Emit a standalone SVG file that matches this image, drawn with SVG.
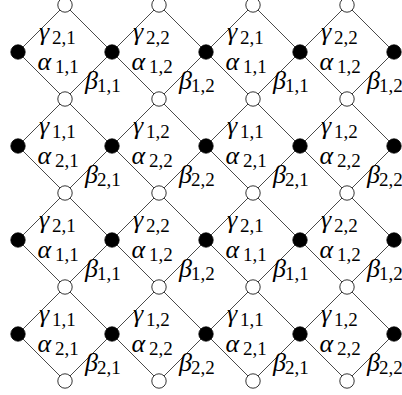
<svg xmlns="http://www.w3.org/2000/svg" width="402" height="395" viewBox="0 0 402 395">
<style>
.e line{stroke:#4a4a4a;stroke-width:1}
.b{fill:#000;stroke:#000;stroke-width:0.8}
.w{fill:#fff;stroke:#000;stroke-width:0.8}
text{fill:#000}
.g{font-family:'Liberation Serif','DejaVu Serif',serif;font-style:italic;font-size:26px}
.s{font-family:'Liberation Serif','DejaVu Serif',serif;font-size:19px}
</style>
<rect width="402" height="395" fill="#fff"/>
<g id="connectors" class="e">
<line x1="65" y1="5" x2="18" y2="52"/><line x1="65" y1="5" x2="112" y2="52"/>
<line x1="159" y1="5" x2="112" y2="52"/><line x1="159" y1="5" x2="206" y2="52"/>
<line x1="253" y1="5" x2="206" y2="52"/><line x1="253" y1="5" x2="300" y2="52"/>
<line x1="347" y1="5" x2="300" y2="52"/><line x1="347" y1="5" x2="394" y2="52"/>
<line x1="65" y1="99" x2="18" y2="52"/><line x1="65" y1="99" x2="112" y2="52"/><line x1="65" y1="99" x2="18" y2="146"/><line x1="65" y1="99" x2="112" y2="146"/>
<line x1="159" y1="99" x2="112" y2="52"/><line x1="159" y1="99" x2="206" y2="52"/><line x1="159" y1="99" x2="112" y2="146"/><line x1="159" y1="99" x2="206" y2="146"/>
<line x1="253" y1="99" x2="206" y2="52"/><line x1="253" y1="99" x2="300" y2="52"/><line x1="253" y1="99" x2="206" y2="146"/><line x1="253" y1="99" x2="300" y2="146"/>
<line x1="347" y1="99" x2="300" y2="52"/><line x1="347" y1="99" x2="394" y2="52"/><line x1="347" y1="99" x2="300" y2="146"/><line x1="347" y1="99" x2="394" y2="146"/>
<line x1="65" y1="193" x2="18" y2="146"/><line x1="65" y1="193" x2="112" y2="146"/><line x1="65" y1="193" x2="18" y2="240"/><line x1="65" y1="193" x2="112" y2="240"/>
<line x1="159" y1="193" x2="112" y2="146"/><line x1="159" y1="193" x2="206" y2="146"/><line x1="159" y1="193" x2="112" y2="240"/><line x1="159" y1="193" x2="206" y2="240"/>
<line x1="253" y1="193" x2="206" y2="146"/><line x1="253" y1="193" x2="300" y2="146"/><line x1="253" y1="193" x2="206" y2="240"/><line x1="253" y1="193" x2="300" y2="240"/>
<line x1="347" y1="193" x2="300" y2="146"/><line x1="347" y1="193" x2="394" y2="146"/><line x1="347" y1="193" x2="300" y2="240"/><line x1="347" y1="193" x2="394" y2="240"/>
<line x1="65" y1="287" x2="18" y2="240"/><line x1="65" y1="287" x2="112" y2="240"/><line x1="65" y1="287" x2="18" y2="334"/><line x1="65" y1="287" x2="112" y2="334"/>
<line x1="159" y1="287" x2="112" y2="240"/><line x1="159" y1="287" x2="206" y2="240"/><line x1="159" y1="287" x2="112" y2="334"/><line x1="159" y1="287" x2="206" y2="334"/>
<line x1="253" y1="287" x2="206" y2="240"/><line x1="253" y1="287" x2="300" y2="240"/><line x1="253" y1="287" x2="206" y2="334"/><line x1="253" y1="287" x2="300" y2="334"/>
<line x1="347" y1="287" x2="300" y2="240"/><line x1="347" y1="287" x2="394" y2="240"/><line x1="347" y1="287" x2="300" y2="334"/><line x1="347" y1="287" x2="394" y2="334"/>
<line x1="65" y1="381" x2="18" y2="334"/><line x1="65" y1="381" x2="112" y2="334"/>
<line x1="159" y1="381" x2="112" y2="334"/><line x1="159" y1="381" x2="206" y2="334"/>
<line x1="253" y1="381" x2="206" y2="334"/><line x1="253" y1="381" x2="300" y2="334"/>
<line x1="347" y1="381" x2="300" y2="334"/><line x1="347" y1="381" x2="394" y2="334"/>
</g>
<g id="nodes">
<g id="b11"><circle class="b" cx="18" cy="52" r="7.2"/></g>
<g id="b12"><circle class="b" cx="112" cy="52" r="7.2"/></g>
<g id="b13"><circle class="b" cx="206" cy="52" r="7.2"/></g>
<g id="b14"><circle class="b" cx="300" cy="52" r="7.2"/></g>
<g id="b15"><circle class="b" cx="394" cy="52" r="7.2"/></g>
<g id="b21"><circle class="b" cx="18" cy="146" r="7.2"/></g>
<g id="b22"><circle class="b" cx="112" cy="146" r="7.2"/></g>
<g id="b23"><circle class="b" cx="206" cy="146" r="7.2"/></g>
<g id="b24"><circle class="b" cx="300" cy="146" r="7.2"/></g>
<g id="b25"><circle class="b" cx="394" cy="146" r="7.2"/></g>
<g id="b31"><circle class="b" cx="18" cy="240" r="7.2"/></g>
<g id="b32"><circle class="b" cx="112" cy="240" r="7.2"/></g>
<g id="b33"><circle class="b" cx="206" cy="240" r="7.2"/></g>
<g id="b34"><circle class="b" cx="300" cy="240" r="7.2"/></g>
<g id="b35"><circle class="b" cx="394" cy="240" r="7.2"/></g>
<g id="b41"><circle class="b" cx="18" cy="334" r="7.2"/></g>
<g id="b42"><circle class="b" cx="112" cy="334" r="7.2"/></g>
<g id="b43"><circle class="b" cx="206" cy="334" r="7.2"/></g>
<g id="b44"><circle class="b" cx="300" cy="334" r="7.2"/></g>
<g id="b45"><circle class="b" cx="394" cy="334" r="7.2"/></g>
<g id="w01"><circle class="w" cx="65" cy="5" r="7.2"/></g>
<g id="w02"><circle class="w" cx="159" cy="5" r="7.2"/></g>
<g id="w03"><circle class="w" cx="253" cy="5" r="7.2"/></g>
<g id="w04"><circle class="w" cx="347" cy="5" r="7.2"/></g>
<g id="w11"><circle class="w" cx="65" cy="99" r="7.2"/></g>
<g id="w12"><circle class="w" cx="159" cy="99" r="7.2"/></g>
<g id="w13"><circle class="w" cx="253" cy="99" r="7.2"/></g>
<g id="w14"><circle class="w" cx="347" cy="99" r="7.2"/></g>
<g id="w21"><circle class="w" cx="65" cy="193" r="7.2"/></g>
<g id="w22"><circle class="w" cx="159" cy="193" r="7.2"/></g>
<g id="w23"><circle class="w" cx="253" cy="193" r="7.2"/></g>
<g id="w24"><circle class="w" cx="347" cy="193" r="7.2"/></g>
<g id="w31"><circle class="w" cx="65" cy="287" r="7.2"/></g>
<g id="w32"><circle class="w" cx="159" cy="287" r="7.2"/></g>
<g id="w33"><circle class="w" cx="253" cy="287" r="7.2"/></g>
<g id="w34"><circle class="w" cx="347" cy="287" r="7.2"/></g>
<g id="w41"><circle class="w" cx="65" cy="381" r="7.2"/></g>
<g id="w42"><circle class="w" cx="159" cy="381" r="7.2"/></g>
<g id="w43"><circle class="w" cx="253" cy="381" r="7.2"/></g>
<g id="w44"><circle class="w" cx="347" cy="381" r="7.2"/></g>
</g>
<g id="labels">
<text class="g" x="39" y="40">γ</text><text class="s" x="52" y="43.5">2,1</text>
<text class="g" x="37.5" y="70">α</text><text class="s" x="55" y="73">1,1</text>
<text class="g" x="85" y="88.5">β</text><text class="s" x="97" y="92">1,1</text>
<text class="g" x="133" y="40">γ</text><text class="s" x="146" y="43.5">2,2</text>
<text class="g" x="131.5" y="70">α</text><text class="s" x="149" y="73">1,2</text>
<text class="g" x="179" y="88.5">β</text><text class="s" x="191" y="92">1,2</text>
<text class="g" x="227" y="40">γ</text><text class="s" x="240" y="43.5">2,1</text>
<text class="g" x="225.5" y="70">α</text><text class="s" x="243" y="73">1,1</text>
<text class="g" x="273" y="88.5">β</text><text class="s" x="285" y="92">1,1</text>
<text class="g" x="321" y="40">γ</text><text class="s" x="334" y="43.5">2,2</text>
<text class="g" x="319.5" y="70">α</text><text class="s" x="337" y="73">1,2</text>
<text class="g" x="367" y="88.5">β</text><text class="s" x="379" y="92">1,2</text>
<text class="g" x="39" y="134">γ</text><text class="s" x="52" y="137.5">1,1</text>
<text class="g" x="37.5" y="164">α</text><text class="s" x="55" y="167">2,1</text>
<text class="g" x="85" y="182.5">β</text><text class="s" x="97" y="186">2,1</text>
<text class="g" x="133" y="134">γ</text><text class="s" x="146" y="137.5">1,2</text>
<text class="g" x="131.5" y="164">α</text><text class="s" x="149" y="167">2,2</text>
<text class="g" x="179" y="182.5">β</text><text class="s" x="191" y="186">2,2</text>
<text class="g" x="227" y="134">γ</text><text class="s" x="240" y="137.5">1,1</text>
<text class="g" x="225.5" y="164">α</text><text class="s" x="243" y="167">2,1</text>
<text class="g" x="273" y="182.5">β</text><text class="s" x="285" y="186">2,1</text>
<text class="g" x="321" y="134">γ</text><text class="s" x="334" y="137.5">1,2</text>
<text class="g" x="319.5" y="164">α</text><text class="s" x="337" y="167">2,2</text>
<text class="g" x="367" y="182.5">β</text><text class="s" x="379" y="186">2,2</text>
<text class="g" x="39" y="228">γ</text><text class="s" x="52" y="231.5">2,1</text>
<text class="g" x="37.5" y="258">α</text><text class="s" x="55" y="261">1,1</text>
<text class="g" x="85" y="276.5">β</text><text class="s" x="97" y="280">1,1</text>
<text class="g" x="133" y="228">γ</text><text class="s" x="146" y="231.5">2,2</text>
<text class="g" x="131.5" y="258">α</text><text class="s" x="149" y="261">1,2</text>
<text class="g" x="179" y="276.5">β</text><text class="s" x="191" y="280">1,2</text>
<text class="g" x="227" y="228">γ</text><text class="s" x="240" y="231.5">2,1</text>
<text class="g" x="225.5" y="258">α</text><text class="s" x="243" y="261">1,1</text>
<text class="g" x="273" y="276.5">β</text><text class="s" x="285" y="280">1,1</text>
<text class="g" x="321" y="228">γ</text><text class="s" x="334" y="231.5">2,2</text>
<text class="g" x="319.5" y="258">α</text><text class="s" x="337" y="261">1,2</text>
<text class="g" x="367" y="276.5">β</text><text class="s" x="379" y="280">1,2</text>
<text class="g" x="39" y="322">γ</text><text class="s" x="52" y="325.5">1,1</text>
<text class="g" x="37.5" y="352">α</text><text class="s" x="55" y="355">2,1</text>
<text class="g" x="85" y="370.5">β</text><text class="s" x="97" y="374">2,1</text>
<text class="g" x="133" y="322">γ</text><text class="s" x="146" y="325.5">1,2</text>
<text class="g" x="131.5" y="352">α</text><text class="s" x="149" y="355">2,2</text>
<text class="g" x="179" y="370.5">β</text><text class="s" x="191" y="374">2,2</text>
<text class="g" x="227" y="322">γ</text><text class="s" x="240" y="325.5">1,1</text>
<text class="g" x="225.5" y="352">α</text><text class="s" x="243" y="355">2,1</text>
<text class="g" x="273" y="370.5">β</text><text class="s" x="285" y="374">2,1</text>
<text class="g" x="321" y="322">γ</text><text class="s" x="334" y="325.5">1,2</text>
<text class="g" x="319.5" y="352">α</text><text class="s" x="337" y="355">2,2</text>
<text class="g" x="367" y="370.5">β</text><text class="s" x="379" y="374">2,2</text>
</g>
</svg>
